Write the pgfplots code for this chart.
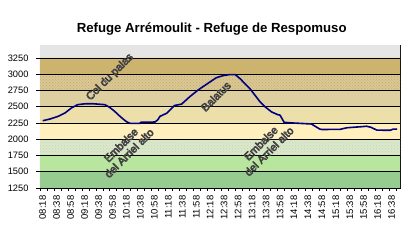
\documentclass[border=0pt]{standalone}
\usepackage{pgfplots}
\pgfplotsset{compat=1.18}
\usetikzlibrary{patterns}
\usepackage{fontspec}
\setmainfont{Liberation Sans}
\definecolor{bTop}{RGB}{229,229,229}
\definecolor{b3000}{RGB}{205,180,110}
\definecolor{b2750}{RGB}{218,199,146}
\definecolor{d2750}{RGB}{190,170,118}
\definecolor{b2500}{RGB}{222,207,160}
\definecolor{b2250}{RGB}{237,223,170}
\definecolor{b2000}{RGB}{255,240,189}
\definecolor{b1750}{RGB}{219,233,202}
\definecolor{d1750}{RGB}{196,214,180}
\definecolor{b1500}{RGB}{184,230,158}
\definecolor{b1250}{RGB}{150,204,144}
\definecolor{navy}{RGB}{0,0,128}
\definecolor{infill}{RGB}{255,252,235}
\newcommand{\ol}[1]{{\color{infill}\special{pdf:literal direct 2 Tr 0.65 w 1 j 0.25 0.25 0.25 RG}#1\special{pdf:literal direct 0 Tr}}}
\begin{document}
\begin{tikzpicture}
\path[use as bounding box] (0,0) rectangle (410pt,240pt);
\node[anchor=base, font=\fontsize{13.2}{15}\selectfont\bfseries] at (211.7pt,207.7pt) {Refuge Arrémoulit - Refuge de Respomuso};
\begin{axis}[
  at={(40pt,52pt)}, anchor=south west,
  scale only axis, width=360pt, height=143pt,
  xmin=-3.9, xmax=512, ymin=1250, ymax=3450,
  ytick={1250,1500,...,3250},
  axis line style={black, line width=0.7pt},
  tick align=outside, xtick pos=lower, ytick pos=left,
  xtick={0,20,...,500},
  xticklabels={08:18,08:38,08:58,09:18,09:38,09:58,10:18,10:38,10:58,11:18,11:38,11:58,12:18,12:38,12:58,13:18,13:38,13:58,14:18,14:38,14:58,15:18,15:38,15:58,16:18,16:38},
  minor xtick={-3.9,6.1,...,510},
  major x tick style={draw=none},
  minor x tick style={black, line width=0.6pt},
  minor tick length=3pt,
  major tick length=4pt,
  y tick style={black, line width=0.6pt},
  xticklabel style={rotate=90, anchor=east, font=\fontsize{9.5}{10}\selectfont},
  yticklabel style={font=\fontsize{9.3}{10}\selectfont, xshift=-4pt},
  /pgf/number format/assume math mode=true,
  /pgf/number format/1000 sep={},
  clip=false,
]
\addplot[fill=bTop, draw=none] coordinates {(-3.9,3250) (512,3250) (512,3450) (-3.9,3450) (-3.9,3250)};
\addplot[fill=b3000, draw=none] coordinates {(-3.9,3000) (512,3000) (512,3250) (-3.9,3250) (-3.9,3000)};
\addplot[fill=b2750, draw=none, postaction={pattern=crosshatch dots, pattern color=d2750}] coordinates {(-3.9,2750) (512,2750) (512,3000) (-3.9,3000) (-3.9,2750)};
\addplot[fill=b2500, draw=none] coordinates {(-3.9,2500) (512,2500) (512,2750) (-3.9,2750) (-3.9,2500)};
\addplot[fill=b2250, draw=none] coordinates {(-3.9,2250) (512,2250) (512,2500) (-3.9,2500) (-3.9,2250)};
\addplot[fill=b2000, draw=none] coordinates {(-3.9,2000) (512,2000) (512,2250) (-3.9,2250) (-3.9,2000)};
\addplot[fill=b1750, draw=none, postaction={pattern=crosshatch dots, pattern color=d1750}] coordinates {(-3.9,1750) (512,1750) (512,2000) (-3.9,2000) (-3.9,1750)};
\addplot[fill=b1500, draw=none] coordinates {(-3.9,1500) (512,1500) (512,1750) (-3.9,1750) (-3.9,1500)};
\addplot[fill=b1250, draw=none] coordinates {(-3.9,1250) (512,1250) (512,1500) (-3.9,1500) (-3.9,1250)};
\addplot[black, line width=0.7pt] coordinates {(-3.9,1500) (512,1500)};
\addplot[black, line width=0.7pt] coordinates {(-3.9,1750) (512,1750)};
\addplot[black, line width=0.7pt] coordinates {(-3.9,2000) (512,2000)};
\addplot[black, line width=0.7pt] coordinates {(-3.9,2250) (512,2250)};
\addplot[black, line width=0.7pt] coordinates {(-3.9,2500) (512,2500)};
\addplot[black, line width=0.7pt] coordinates {(-3.9,2750) (512,2750)};
\addplot[black, line width=0.7pt] coordinates {(-3.9,3000) (512,3000)};
\addplot[black, line width=0.7pt] coordinates {(-3.9,3250) (512,3250)};
\addplot[navy, line width=1.6pt, line join=round] coordinates {
(0,2285) (10,2310) (22,2352) (32,2405) (41,2480) (50,2532) (60,2545) (70,2547)
(80,2540) (89,2532) (96,2490) (103,2430) (112,2340) (120,2270) (125,2245) (139,2245)
(141,2262) (161,2265) (165,2300) (168,2352) (178,2402) (189,2520) (199,2540)
(211,2657) (223,2760) (237,2862) (249,2948) (259,2980) (268,2995) (276,2995)
(283,2930) (297,2777) (311,2582) (318,2505) (328,2420) (337,2377) (340,2372)
(346,2260) (359,2250) (376,2240) (385,2235) (390,2202) (397,2157) (400,2150)
(426,2152) (436,2177) (459,2195) (464,2200) (470,2185) (479,2140) (498,2138)
(502,2155) (508,2157)
};
\node[rotate=45, font=\fontsize{11}{11.5}\selectfont] at (axis cs:96.4,2954) {\ol{Col du palas}};
\node[rotate=45, font=\fontsize{11}{11.5}\selectfont] at (axis cs:248,2659) {\ol{Balatus}};
\node[rotate=45, align=center, font=\fontsize{11}{11.5}\selectfont] at (axis cs:117.9,1850) {\ol{Embalse}\\\ol{del Arriel alto}};
\node[rotate=45, align=center, font=\fontsize{11}{11.5}\selectfont] at (axis cs:318.4,1877) {\ol{Embalse}\\\ol{del Arriel alto}};
\end{axis}
\end{tikzpicture}
\end{document}
